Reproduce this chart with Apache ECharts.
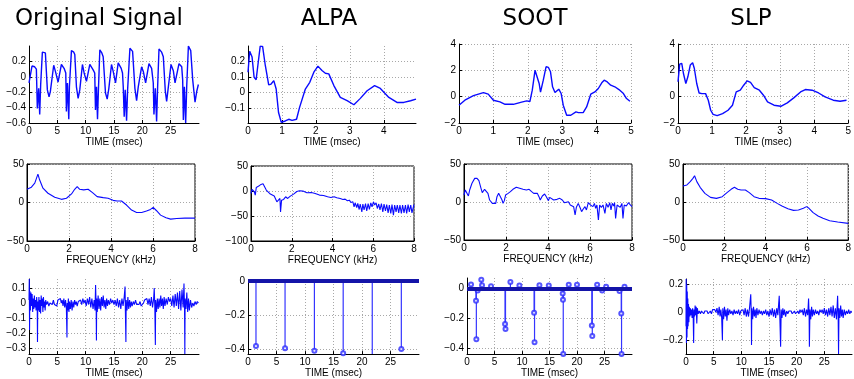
<!DOCTYPE html>
<html>
<head>
<meta charset="utf-8">
<script src="https://cdn.jsdelivr.net/npm/echarts@6/dist/echarts.min.js"></script>
<style>
  html, body { margin: 0; background: #fff; }
  #chart { width: 854px; height: 379px; }
</style>
</head>
<body>
<div id="chart"></div>
<script>
// column titles and axis names
const titles = ['Original Signal', 'ALPA', 'SOOT', 'SLP'];
const timeName = 'TIME (msec)';
const freqName = 'FREQUENCY (kHz)';

// row 1: waveforms, [time ms, amplitude]
const origSig = [[0,-0.08],[0.53,0.14],[1.0,0.13],[1.3,0.10],[1.47,-0.41],[1.71,-0.15],[1.89,-0.49],[2.06,-0.10],[2.36,0.32],[2.89,0.31],[3.24,-0.17],[3.54,-0.26],[3.77,-0.19],[4.36,0.15],[4.66,0.07],[5.13,-0.07],[5.72,0.16],[6.19,0.11],[6.49,0.05],[6.60,-0.45],[6.78,-0.08],[7.02,-0.55],[7.13,-0.13],[7.49,0.34],[7.90,0.32],[8.08,0.29],[8.37,-0.13],[8.67,-0.28],[8.96,-0.17],[9.43,0.16],[9.73,0.05],[10.14,-0.06],[10.73,0.16],[11.32,0.09],[11.6,0.05],[11.73,-0.43],[11.91,-0.13],[12.09,-0.55],[12.26,-0.15],[12.5,0.35],[12.85,0.31],[13.09,0.26],[13.5,-0.21],[13.8,-0.29],[14.09,-0.15],[14.56,0.16],[14.86,0.07],[15.27,-0.08],[15.74,0.18],[16.27,0.11],[16.5,0.05],[16.63,-0.13],[16.8,-0.52],[16.98,-0.17],[17.22,-0.57],[17.4,-0.17],[17.81,0.37],[18.28,0.33],[18.69,-0.15],[18.99,-0.31],[19.28,-0.13],[19.87,0.13],[20.17,0.07],[20.58,-0.08],[21.17,0.17],[21.64,0.11],[21.93,-0.08],[22.05,-0.49],[22.29,-0.15],[22.52,-0.58],[22.7,-0.13],[22.94,0.36],[23.41,0.32],[23.7,0.26],[24.06,-0.19],[24.29,-0.32],[24.53,-0.17],[25.06,0.16],[25.47,0.08],[25.77,-0.08],[26.47,0.17],[26.95,0.13],[27.12,-0.04],[27.24,-0.56],[27.42,-0.13],[27.65,-0.60],[27.83,-0.13],[28.13,0.40],[28.54,0.34],[28.89,-0.04],[29.3,-0.33],[29.6,-0.19],[29.89,-0.10]];
const alpaSig = [[0,0.131],[0.05,0.265],[0.12,0.228],[0.18,0.098],[0.24,0.083],[0.29,0.174],[0.36,0.298],[0.43,0.296],[0.51,0.174],[0.61,0.049],[0.68,0.055],[0.76,0.077],[0.83,0.023],[0.90,-0.128],[0.98,-0.19],[1.10,-0.182],[1.20,-0.171],[1.30,-0.178],[1.43,-0.171],[1.52,-0.095],[1.69,0.023],[1.82,0.066],[1.94,0.131],[2.06,0.17],[2.18,0.142],[2.28,0.124],[2.38,0.12],[2.53,0.045],[2.72,-0.031],[2.92,-0.052],[3.12,-0.078],[3.31,-0.037],[3.51,0.012],[3.73,0.045],[3.90,0.027],[4.15,-0.031],[4.39,-0.063],[4.59,-0.063],[4.79,-0.052],[4.95,-0.042]];
const sootSig = [[0,-0.65],[0.17,-0.27],[0.42,0.08],[0.71,0.31],[0.85,0.19],[1.0,-0.27],[1.19,-0.4],[1.34,-0.58],[1.58,-0.58],[1.82,-0.42],[1.97,-0.32],[2.06,-0.37],[2.13,0.49],[2.21,2.0],[2.26,1.94],[2.33,1.0],[2.37,0.34],[2.45,1.25],[2.53,2.27],[2.6,2.22],[2.66,1.89],[2.72,0.75],[2.79,0.31],[2.84,0.36],[2.9,0.57],[2.97,0.24],[3.03,-0.65],[3.13,-1.41],[3.25,-1.41],[3.4,-1.16],[3.47,-1.21],[3.61,-1.21],[3.71,-0.78],[3.83,0.19],[3.95,0.36],[4.05,0.62],[4.15,1.05],[4.22,1.25],[4.31,1.12],[4.41,0.87],[4.53,0.75],[4.65,0.54],[4.78,0.24],[4.87,-0.14],[4.97,-0.35]];
const slpSig = [[0,1.13],[0.05,2.47],[0.11,2.53],[0.16,1.76],[0.23,1.0],[0.29,1.51],[0.36,2.4],[0.43,2.58],[0.48,2.14],[0.55,1.0],[0.62,0.28],[0.7,0.23],[0.74,0.36],[0.81,0.23],[0.89,-0.27],[0.96,-1.03],[1.03,-1.34],[1.15,-1.44],[1.31,-1.29],[1.47,-1.03],[1.6,-0.65],[1.71,0.36],[1.83,0.49],[1.93,0.87],[2.03,1.2],[2.13,1.08],[2.24,0.69],[2.39,0.49],[2.51,0.11],[2.63,-0.4],[2.82,-0.65],[3.02,-0.73],[3.21,-0.47],[3.4,-0.09],[3.6,0.36],[3.74,0.54],[3.94,0.49],[4.13,0.28],[4.32,-0.02],[4.56,-0.27],[4.76,-0.35],[4.95,-0.27]];

// row 2: spectra, [frequency kHz, dB]
const origSpec = [[0,17.2],[0.21,19.9],[0.37,25.1],[0.52,36.9],[0.6,29.5],[0.76,18.6],[1.0,12],[1.32,6.8],[1.64,4.1],[1.88,5.5],[2.12,11.1],[2.27,17.2],[2.39,20.7],[2.51,17.2],[2.7,16.4],[2.91,17.2],[3.12,12.9],[3.34,7.6],[3.63,6.3],[3.86,5.5],[4.1,2.8],[4.29,2.0],[4.5,2.0],[4.74,-3.3],[4.98,-9.8],[5.22,-12.9],[5.46,-12.9],[5.69,-11.1],[5.88,-9.0],[6.01,-6.3],[6.17,-10.7],[6.36,-16.4],[6.62,-19.9],[6.84,-21.6],[7.13,-20.7],[7.52,-20.3],[8,-20.3]];
const alpaSpec = [[0,-4.9],[0.05,3.1],[0.1,5.2],[0.16,-1.5],[0.21,-8.2],[0.26,7.2],[0.38,9.8],[0.49,13.2],[0.59,14.5],[0.67,10.5],[0.75,1.8],[0.83,-1.5],[0.95,-6.2],[1.04,-4.9],[1.14,-10.2],[1.22,-13.6],[1.27,-21.6],[1.36,-18.3],[1.42,-14.9],[1.45,-41.7],[1.5,-18.3],[1.6,-16.9],[1.7,-11.6],[1.8,-14.9],[1.93,-10.2],[2.09,-6.2],[2.25,-0.9],[2.38,0.5],[2.55,-0.2],[2.74,-3.5],[2.96,-2.9],[3.15,-4.9],[3.36,-8.2],[3.56,-8.9],[3.76,-11.6],[3.92,-12.9],[4.08,-11.6],[4.21,-13.6],[4.38,-14.9],[4.51,-16.9],[4.62,-16.3],[4.73,-19.6],[4.83,-18.3],[4.9,-23.0],[4.95,-27],[5.0,-21.6],[5.06,-31.7],[5.11,-23.6],[5.19,-33],[5.24,-25],[5.31,-37],[5.36,-26],[5.44,-41.7],[5.49,-26],[5.55,-38],[5.62,-25],[5.68,-40],[5.75,-25],[5.81,-37],[5.88,-23.6],[5.94,-31.7],[6.01,-21.6],[6.07,-28],[6.14,-23.6],[6.2,-35],[6.27,-26],[6.33,-38],[6.4,-25],[6.47,-41.7],[6.53,-26],[6.6,-40],[6.66,-27],[6.73,-43.7],[6.79,-28],[6.86,-45],[6.92,-27],[6.99,-48.4],[7.05,-28],[7.12,-41.7],[7.18,-28],[7.25,-43.7],[7.31,-28],[7.38,-45],[7.44,-28],[7.51,-43.7],[7.58,-28],[7.64,-45],[7.71,-27],[7.77,-41.7],[7.84,-28],[7.9,-43.7],[8,-27]];
const sootSpec = [[0,9.2],[0.06,15.8],[0.14,13.6],[0.21,7.9],[0.27,15.8],[0.38,24.6],[0.51,31.1],[0.62,31.1],[0.71,28.1],[0.81,18],[0.87,12.3],[0.98,16.7],[1.06,18],[1.14,11.4],[1.22,2.6],[1.29,4.8],[1.35,-1.8],[1.41,-2.6],[1.51,-1.8],[1.57,7],[1.65,11.4],[1.73,9.2],[1.81,2.6],[1.86,-1.8],[1.92,1.8],[1.98,9.2],[2.1,11.4],[2.21,13.6],[2.33,16.7],[2.49,19.3],[2.65,18],[2.81,16.7],[2.97,15.8],[3.1,16.7],[3.22,13.6],[3.32,11.4],[3.41,8.8],[3.49,11.4],[3.57,7],[3.63,2.6],[3.73,7.9],[3.84,10.5],[3.92,7],[4.02,1.8],[4.08,6.1],[4.17,7],[4.27,2.6],[4.33,0.4],[4.43,3.5],[4.56,4.8],[4.68,2.6],[4.78,-0.9],[4.87,-1.8],[4.97,0.4],[5.06,-3.9],[5.13,-1.8],[5.22,-6.1],[5.29,-17.1],[5.35,-7],[5.44,-1.8],[5.54,-8.3],[5.6,-12.7],[5.67,-9.6],[5.76,-6.1],[5.83,-10.5],[5.92,-0.9],[6.02,-3.9],[6.08,-1.8],[6.14,-6.1],[6.21,-1.8],[6.27,-8.3],[6.33,-3.9],[6.4,-23.7],[6.46,-3.9],[6.54,-7],[6.62,-3.9],[6.71,-14.9],[6.78,-1.8],[6.86,-7],[6.94,-0.9],[7.0,-10.5],[7.06,-1.8],[7.13,-5.3],[7.17,-0.9],[7.22,-21.5],[7.29,-3.9],[7.37,-1.8],[7.44,-7],[7.52,-1.8],[7.57,-21.5],[7.63,-3.9],[7.73,-5.3],[7.83,-0.9],[7.92,-3.9],[8,-6.1]];
const slpSpec = [[0,21],[0.19,22.4],[0.35,26.8],[0.48,31.1],[0.56,34.6],[0.67,26.8],[0.83,19.3],[1.06,11.4],[1.33,6.1],[1.62,4.8],[1.9,7],[2.13,12.3],[2.33,16.7],[2.49,19.3],[2.65,16.7],[2.81,15.8],[3.02,15.8],[3.21,12.3],[3.44,7],[3.68,4.8],[4.0,4.4],[4.29,2.6],[4.56,-1.8],[4.79,-5.3],[5.08,-8.8],[5.35,-11],[5.59,-10.5],[5.83,-8.3],[5.98,-6.1],[6.1,-8.3],[6.3,-14],[6.54,-18.4],[6.78,-21.5],[7.1,-24.6],[7.49,-26.3],[8,-28.1]];

// row 3: residual / excitation, [time ms, amplitude]
const origRes = [[0,0.02],[0.05,0.16],[0.1,-0.18],[0.15,0.08],[0.25,-0.05],[0.35,0.07],[0.45,-0.02],[0.55,0.06],[0.65,-0.06],[0.75,0.03],[0.85,-0.04],[0.95,0.05],[1.05,-0.03],[1.15,0.02],[1.25,-0.05],[1.35,0.04],[1.45,-0.02],[1.5,-0.26],[1.55,0.01],[1.65,-0.05],[1.75,0.04],[1.85,-0.06],[1.95,0.02],[2.05,-0.07],[2.15,0.05],[2.25,-0.02],[2.35,0.03],[2.45,-0.06],[2.55,0.04],[2.65,-0.03],[2.75,0.01],[2.85,-0.05],[2.95,0.02],[3.1,-0.01],[3.3,0.01],[3.5,-0.02],[3.7,0],[3.9,0.01],[4.1,-0.01],[4.3,0.02],[4.5,-0.01],[4.7,0],[4.9,-0.02],[5.1,0.02],[5.25,0.03],[5.4,0.01],[5.55,0.03],[5.7,0],[5.85,0.02],[6.0,-0.02],[6.15,0.03],[6.3,-0.03],[6.45,0.02],[6.6,-0.04],[6.7,-0.23],[6.75,0],[6.85,-0.05],[6.95,0.03],[7.05,-0.06],[7.15,0.01],[7.3,-0.04],[7.45,0.02],[7.6,-0.05],[7.75,0.01],[7.9,-0.03],[8.05,0.02],[8.2,-0.01],[8.35,0.01],[8.5,-0.02],[8.7,0.01],[8.9,0],[9.1,0.02],[9.3,-0.01],[9.5,0.03],[9.7,0],[9.9,0.02],[10.1,-0.02],[10.3,0.03],[10.5,-0.01],[10.7,0.04],[10.9,-0.03],[11.1,0.03],[11.3,-0.04],[11.5,0.02],[11.65,-0.05],[11.75,0.12],[11.85,-0.02],[11.9,-0.25],[11.95,0.03],[12.05,-0.06],[12.2,0.05],[12.35,-0.04],[12.5,0.03],[12.65,-0.05],[12.8,0.04],[12.95,-0.02],[13.1,0.05],[13.25,-0.03],[13.4,0.02],[13.55,-0.04],[13.7,0.03],[13.85,-0.02],[14.0,0.02],[14.2,-0.01],[14.4,0.03],[14.6,0],[14.8,0.02],[15.0,-0.01],[15.2,0.02],[15.4,-0.02],[15.6,0.03],[15.8,-0.03],[16.0,0.02],[16.2,-0.04],[16.4,0.03],[16.6,-0.02],[16.8,0.04],[16.95,0.11],[17.0,-0.03],[17.1,-0.26],[17.15,0.02],[17.3,-0.05],[17.45,0.04],[17.6,-0.04],[17.75,0.02],[17.9,-0.03],[18.05,0.01],[18.2,-0.02],[18.4,0.01],[18.6,-0.01],[18.8,0.02],[19.0,-0.01],[19.2,0],[19.4,-0.01],[19.6,0.01],[19.8,-0.02],[20.0,-0.01],[20.2,0],[20.4,0.02],[20.6,0.01],[20.8,0.03],[21.0,-0.01],[21.2,0.03],[21.4,-0.02],[21.6,0.04],[21.8,-0.03],[22.0,0.03],[22.1,0.10],[22.2,-0.02],[22.3,-0.28],[22.35,0.02],[22.5,-0.06],[22.65,0.03],[22.8,-0.04],[22.95,0.03],[23.1,-0.03],[23.25,0.05],[23.4,-0.02],[23.55,0.03],[23.7,-0.04],[23.85,0.04],[24.0,-0.02],[24.2,0.03],[24.4,-0.01],[24.6,0.04],[24.8,0.01],[25.0,0.03],[25.2,-0.02],[25.4,0.05],[25.6,-0.03],[25.8,0.06],[26.0,-0.02],[26.2,0.07],[26.4,-0.04],[26.6,0.08],[26.8,-0.05],[27.0,0.09],[27.2,-0.03],[27.35,0.13],[27.45,-0.05],[27.5,-0.34],[27.55,0.03],[27.7,-0.04],[27.85,0.07],[28.0,-0.06],[28.15,0.03],[28.3,-0.05],[28.5,0.02],[28.7,-0.03],[28.9,0],[29.1,-0.02],[29.3,0.01],[29.5,-0.01],[29.7,0.01],[29.9,0]];
const alpaStemT = [1.4, 6.5, 11.65, 16.7, 21.8, 26.9];
const alpaStemV = [-0.383, -0.396, -0.41, -0.425, -0.432, -0.40];
const sootStemT = [0.73, 1.64, 1.70, 1.94, 2.60, 2.73, 4.37, 6.92, 7.00, 7.89, 9.53, 12.2, 12.28, 13.17, 14.87, 17.40, 17.45, 17.50, 18.50, 20.00, 22.70, 22.78, 23.66, 24.58, 25.30, 27.73, 28.05, 28.10, 28.64];
const sootStemV = [0.026, -0.082, -0.34, -0.013, 0.058, 0.022, 0.015, -0.239, -0.271, 0.043, 0.019, -0.163, -0.361, 0.022, 0.019, -0.034, -0.075, -0.44, 0.024, 0.024, -0.249, -0.318, 0.024, -0.013, 0.011, -0.017, -0.168, -0.44, 0.011];
const slpRes = [[0,-0.1],[0.03,0.24],[0.08,-0.22],[0.13,0.2],[0.18,-0.18],[0.23,0.15],[0.28,-0.12],[0.33,0.1],[0.38,-0.1],[0.45,0.06],[0.52,-0.07],[0.6,0.04],[0.7,-0.03],[0.8,0.03],[0.9,-0.02],[1.0,0.02],[1.1,-0.04],[1.2,0.03],[1.3,-0.03],[1.38,-0.22],[1.45,0.02],[1.55,-0.03],[1.65,0.05],[1.75,-0.02],[1.85,0.04],[1.95,-0.08],[2.05,0.03],[2.2,-0.01],[2.4,0.01],[2.6,-0.01],[2.8,0.01],[3.0,0],[3.2,-0.01],[3.4,0.01],[3.6,0],[3.8,0.01],[4.0,-0.01],[4.2,0],[4.4,0.01],[4.6,-0.01],[4.8,0.02],[5.0,0.01],[5.2,0.02],[5.4,0],[5.6,0.03],[5.8,-0.02],[6.0,0.04],[6.15,-0.03],[6.3,0.02],[6.45,-0.04],[6.58,-0.2],[6.65,0.03],[6.8,-0.05],[6.95,0.04],[7.1,-0.03],[7.25,0.02],[7.4,-0.06],[7.55,0.03],[7.7,-0.02],[7.9,0.02],[8.1,-0.01],[8.3,0.01],[8.5,-0.02],[8.7,0.02],[8.9,-0.01],[9.1,0.01],[9.3,-0.01],[9.5,0.02],[9.7,-0.02],[9.9,0.01],[10.1,0],[10.3,0.02],[10.5,-0.02],[10.7,0.03],[10.9,-0.03],[11.1,0.02],[11.3,-0.03],[11.5,0.04],[11.7,0.13],[11.8,-0.02],[11.84,-0.235],[11.9,0.03],[12.05,-0.05],[12.2,0.04],[12.35,-0.03],[12.5,0.02],[12.65,-0.04],[12.8,0.03],[13.0,-0.02],[13.2,0.02],[13.4,-0.01],[13.6,0.01],[13.8,-0.02],[14.0,0.01],[14.2,-0.01],[14.4,0.02],[14.6,-0.02],[14.8,0.01],[15.0,-0.03],[15.2,0.02],[15.4,-0.02],[15.6,0.03],[15.8,-0.03],[16.0,0.02],[16.2,-0.04],[16.4,0.03],[16.6,-0.02],[16.85,0.12],[16.95,-0.02],[17.1,-0.247],[17.2,0.02],[17.35,-0.04],[17.5,0.03],[17.65,-0.02],[17.8,0.02],[18.0,-0.03],[18.2,0.01],[18.4,-0.01],[18.6,0.01],[18.8,0],[19.0,0.01],[19.2,-0.01],[19.4,0],[19.6,0.01],[19.8,-0.01],[20.0,0],[20.2,0.01],[20.4,-0.01],[20.6,0.02],[20.8,0],[21.0,0.02],[21.2,-0.02],[21.4,0.03],[21.6,-0.03],[21.8,0.02],[22.0,-0.02],[22.15,0.1],[22.25,-0.02],[22.3,-0.247],[22.4,0.02],[22.55,-0.05],[22.7,0.04],[22.85,-0.03],[23.0,0.02],[23.2,-0.02],[23.4,0.02],[23.6,-0.01],[23.8,0.01],[24.0,-0.02],[24.2,0.02],[24.4,0],[24.6,0.02],[24.8,-0.01],[25.0,0.03],[25.2,-0.02],[25.4,0.02],[25.6,-0.03],[25.8,0.03],[26.0,-0.02],[26.2,0.04],[26.4,-0.03],[26.6,0.05],[26.8,-0.04],[27.0,0.03],[27.2,-0.05],[27.4,0.12],[27.5,-0.03],[27.57,-0.3],[27.65,0.03],[27.8,-0.04],[27.95,0.05],[28.1,-0.03],[28.25,0.02],[28.4,-0.04],[28.6,0.02],[28.8,-0.02],[29.0,0.01],[29.2,-0.01],[29.4,0.02],[29.6,-0.01],[29.8,0.01],[29.95,0]];

const BLUE = '#0a0aff';
const FONT = 'Liberation Sans';

// layout of the 12 panels: grid box, x range, y range, which edge labels/lines show
const panels = [
  { g: [29, 46, 170, 77],  x: [0, 30, 5],   y: [-0.6, 0.4, 0.2],  yMaxLab: false, xMaxLab: false, maxLine: false, name: timeName },
  { g: [248, 46, 168, 77], x: [0, 4.95, 1], y: [-0.195, 0.299, null, 5], yMinLab: false, yMaxLab: false, xMaxLab: false, maxLine: false, name: timeName },
  { g: [459, 44, 172, 79], x: [0, 5, 1],    y: [-2, 4, 2], maxLine: true, name: timeName },
  { g: [678, 44, 172, 79], x: [0, 5, 1],    y: [-2, 4, 2], maxLine: true, name: timeName },

  { g: [27, 164, 168, 77],  x: [0, 8, 2], y: [-50, 50, 50],  box: true, maxLine: true, name: freqName },
  { g: [251, 166, 163, 75], x: [0, 8, 2], y: [-100, 50, 50], box: true, maxLine: true, name: freqName },
  { g: [464, 164, 168, 76], x: [0, 8, 2], y: [-50, 50, 50],  box: true, maxLine: true, name: freqName },
  { g: [683, 164, 168, 76], x: [0, 8, 2], y: [-50, 50, 50],  box: true, maxLine: true, name: freqName },

  { g: [29, 279, 170, 78],  x: [0, 30, 5], y: [-0.34, 0.16, null, 5], yMinLab: false, yMaxLab: false, xMaxLab: false, maxLine: false, name: timeName },
  { g: [248, 281, 171, 76], x: [0, 30, 5], y: [-0.43, 0, null, 2],    yMinLab: false, xMaxLab: false, maxLine: false, name: timeName },
  { g: [467, 278, 165, 79], x: [0, 30, 5], y: [-0.44, 0.07, null, 3], yMinLab: false, yMaxLab: false, xMaxLab: false, maxLine: false, name: timeName },
  { g: [686, 279, 166, 78], x: [0, 30, 5], y: [-0.3, 0.24, null, 3],  yMinLab: false, yMaxLab: false, xMaxLab: false, maxLine: false, name: timeName }
];

function fmt(v) {
  return String(+(+v).toFixed(3)).replace('-', '\u2212');
}

const gridLine = { color: '#a8a8a8', width: 1, type: [1, 2] };
const labelStyle = { fontFamily: FONT, fontSize: 10, color: '#000', formatter: fmt };

const grids = [], xAxes = [], yAxes = [];
panels.forEach((p, i) => {
  grids.push({
    left: p.g[0], top: p.g[1], width: p.g[2], height: p.g[3],
    show: !!p.box, borderColor: '#000', borderWidth: 1, backgroundColor: 'transparent'
  });
  xAxes.push({
    gridIndex: i, type: 'value', min: p.x[0], max: p.x[1], interval: p.x[2],
    name: p.name, nameLocation: 'middle', nameGap: 11,
    nameTextStyle: { fontFamily: FONT, fontSize: 10, color: '#000' },
    axisLine: { show: true, onZero: false, lineStyle: { color: '#000', width: 1 } },
    axisTick: { show: true, inside: true, length: 3, lineStyle: { color: '#000' } },
    axisLabel: Object.assign({ margin: 3, showMaxLabel: p.xMaxLab !== false }, labelStyle),
    splitLine: { show: true, showMinLine: false, showMaxLine: !!p.maxLine, lineStyle: gridLine }
  });
  const y = {
    gridIndex: i, type: 'value', min: p.y[0], max: p.y[1],
    axisLine: { show: true, onZero: false, lineStyle: { color: '#000', width: 1 } },
    axisTick: { show: true, inside: true, length: 3, lineStyle: { color: '#000' } },
    axisLabel: Object.assign({ margin: 3, showMinLabel: p.yMinLab !== false, showMaxLabel: p.yMaxLab !== false }, labelStyle),
    splitLine: { show: true, showMinLine: false, showMaxLine: !!p.maxLine, lineStyle: gridLine }
  };
  if (p.y[2]) y.interval = p.y[2]; else y.splitNumber = p.y[3];
  yAxes.push(y);
});

function line(i, data, width) {
  return {
    type: 'line', xAxisIndex: i, yAxisIndex: i, data: data,
    showSymbol: false, symbol: 'none', smooth: false, silent: true, animation: false,
    lineStyle: { color: BLUE, width: width }
  };
}

// stem plot: thin bars from zero, open circles at the tips, thick zero band
function stems(i, ts, vs) {
  const pts = ts.map((t, k) => [t, vs[k]]);
  return [
    {
      type: 'bar', xAxisIndex: i, yAxisIndex: i, data: pts, barWidth: 1.2, silent: true, animation: false,
      itemStyle: { color: '#3535ff' },
      markLine: {
        silent: true, symbol: ['none', 'none'], label: { show: false }, animation: false,
        lineStyle: { color: '#1414a8', width: 4, type: 'solid' },
        data: [{ yAxis: 0 }]
      }
    },
    {
      type: 'scatter', xAxisIndex: i, yAxisIndex: i, data: pts, silent: true, animation: false,
      symbol: 'emptyCircle', symbolSize: 4,
      itemStyle: { color: '#2a2aff', borderColor: '#2a2aff', borderWidth: 1 }
    }
  ];
}

const series = [
  line(0, origSig, 1.4), line(1, alpaSig, 1.4), line(2, sootSig, 1.4), line(3, slpSig, 1.4),
  line(4, origSpec, 1.1), line(5, alpaSpec, 1.1), line(6, sootSpec, 1.1), line(7, slpSpec, 1.1),
  line(8, origRes, 1.1),
  ...stems(9, alpaStemT, alpaStemV),
  ...stems(10, sootStemT, sootStemV),
  line(11, slpRes, 1.1)
];

const titleX = [94, 324, 530, 746];
const titleOpts = titles.map((t, k) => ({
  text: t, left: titleX[k], top: 3, textAlign: 'center',
  textStyle: { fontFamily: 'DejaVu Sans', fontSize: 23, fontWeight: 'normal', color: '#000' }
}));

const chart = echarts.init(document.getElementById('chart'), null, { renderer: 'canvas' });
chart.setOption({
  animation: false,
  backgroundColor: '#fff',
  title: titleOpts,
  grid: grids,
  xAxis: xAxes,
  yAxis: yAxes,
  series: series
});
</script>
</body>
</html>
